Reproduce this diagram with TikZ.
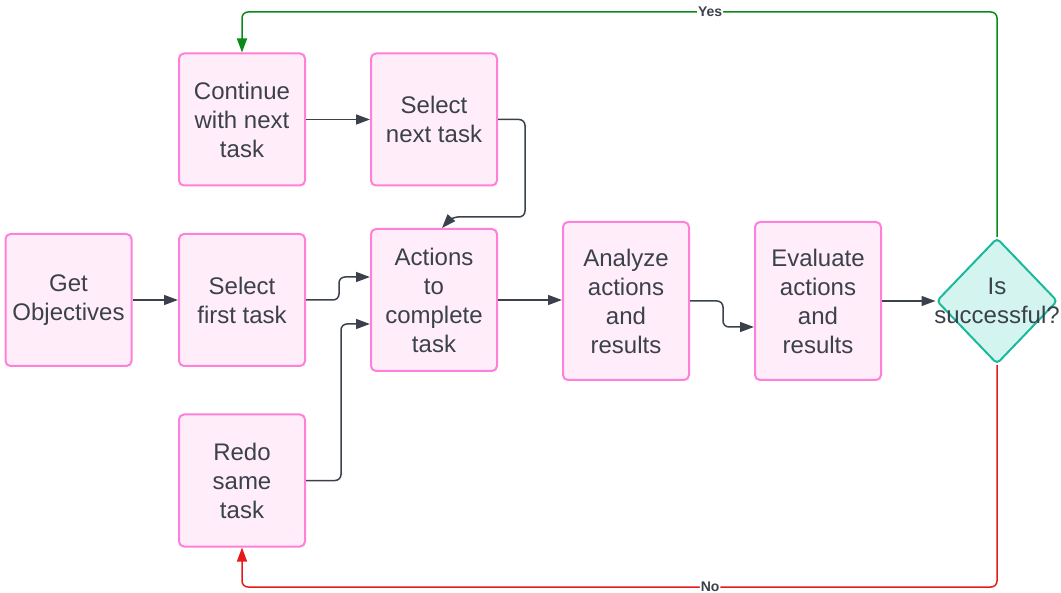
\documentclass[tikz,border=0pt]{standalone}
\usepackage{fontspec}
\setmainfont{Liberation Sans}
\usetikzlibrary{positioning,arrows.meta,shapes.geometric}
\definecolor{boxfill}{HTML}{FFEEF9}
\definecolor{boxline}{HTML}{FF80D8}
\definecolor{decfill}{HTML}{D4F5EF}
\definecolor{decline}{HTML}{1AB99B}
\definecolor{ink}{HTML}{3B414B}
\definecolor{yesgreen}{HTML}{0A8A1A}
\definecolor{nored}{HTML}{E51B1B}
\begin{document}
\begin{tikzpicture}[x=0.5pt,y=-0.5pt,
  task/.style={rectangle,draw=boxline,fill=boxfill,line width=1pt,rounded corners=2.5pt,minimum width=63pt,minimum height=66pt,align=center,text=ink,font=\fontsize{12}{14.5}\selectfont,inner sep=2pt},
  dec/.style={diamond,draw=decline,fill=decfill,line width=1pt,rounded corners=2pt,minimum width=60.5pt,minimum height=63pt,inner sep=0pt},
  flow/.style={draw=ink,line width=0.75pt,rounded corners=3pt,-{Triangle[length=7pt,width=5pt]}},
  lbl/.style={fill=white,inner sep=0.5pt,font=\fontsize{7}{7.5}\selectfont\bfseries,text=ink}]
              \useasboundingbox (0,0) rectangle (1061,593);
              \node[task] (obj) at (68.5,300) {Get\\Objectives};
              \node[task] (first) at (242,300) {Select\\first task};
              \node[task] (cont) at (242,119.5) {Continue\\with next\\task};
              \node[task] (next) at (434,119.5) {Select\\next task};
              \node[task,minimum height=71pt] (act) at (434,300) {Actions\\to\\complete\\task};
              \node[task] (redo) at (242,480.5) {Redo\\same\\task};
              \node[task,minimum height=79pt] (ana) at (626,301) {Analyze\\actions\\and\\results};
              \node[task,minimum height=79pt] (eval) at (818,301) {Evaluate\\actions\\and\\results};
              \node[dec,label={[text=ink,font=\fontsize{12}{14.5}\selectfont,align=center]center:Is\\successful?}] (dia) at (997,301) {};

              \draw[flow] (obj) -- (first);
              \draw[flow] (first.east) -- ++(33,0) |- ([yshift=11.5pt]act.west);
              \draw[flow] (redo.east) -- ++(35,0) |- ([yshift=-12pt]act.west);
              \draw[flow] (cont) -- (next);
              \draw[flow] (next.east) -- ++(27,0) |- (452,217) -- ([xshift=4pt]act.north);
              \draw[flow] (act.east) -- (act.east -| ana.west);
              \draw[flow] (ana.east) -- ++(33,0) |- ([yshift=-13pt]eval.west);
              \draw[flow] (eval.east) -- (eval.east -| dia.west);
              \draw[flow,draw=yesgreen,-{Triangle[length=7pt,width=5pt,fill=yesgreen]}] (dia.north) -- ++(0,-225) -| node[lbl,pos=0.19]{Yes} (cont.north);
              \draw[flow,draw=nored,-{Triangle[length=7pt,width=5pt,fill=nored]}] (dia.south) -- ++(0,222) -| node[lbl,pos=0.19]{No} (redo.south);
            \end{tikzpicture}
\end{document}
